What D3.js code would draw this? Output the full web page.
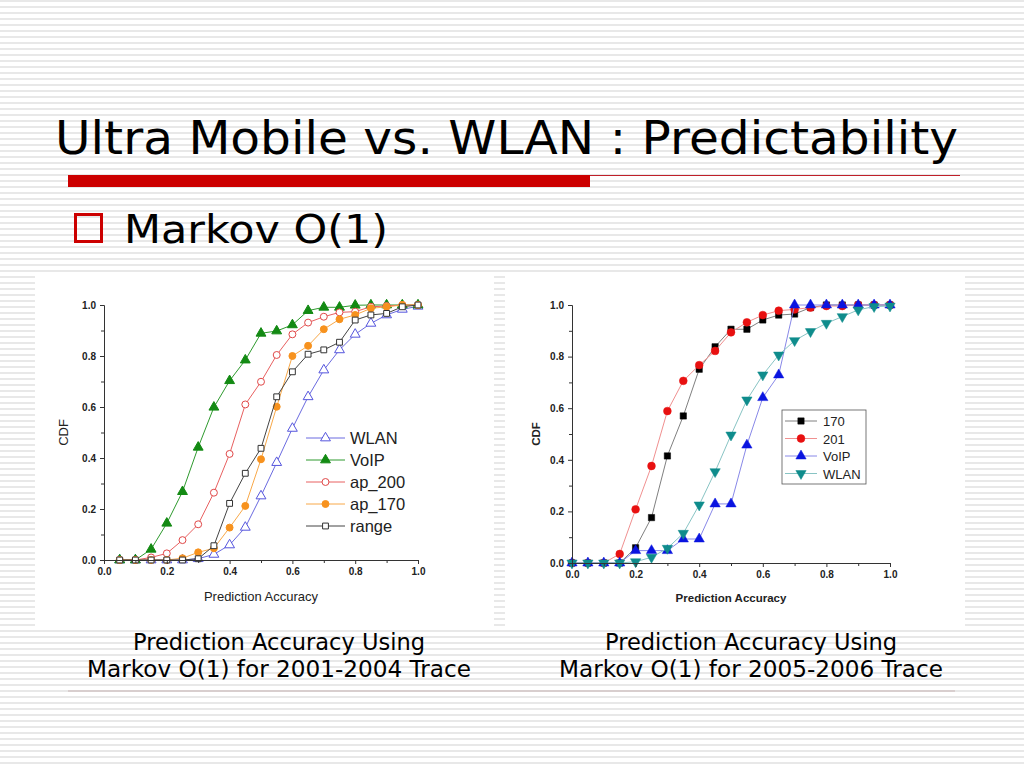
<!DOCTYPE html>
<html>
<head>
<meta charset="utf-8">
<script src="https://cdn.jsdelivr.net/npm/d3@7/dist/d3.min.js"></script>
<style>
  html, body { margin: 0; padding: 0; background: #fff; }
  svg { display: block; }
</style>
</head>
<body>
<svg id="chart" width="1024" height="768"></svg>
<script>
// ---------------- DATA ----------------
const slideTitle = "Ultra Mobile vs. WLAN : Predictability";
const bulletText = "Markov O(1)";
const captionLeft = ["Prediction Accuracy Using", "Markov O(1) for 2001-2004 Trace"];
const captionRight = ["Prediction Accuracy Using", "Markov O(1) for 2005-2006 Trace"];

const axisTicks = [0.0, 0.2, 0.4, 0.6, 0.8, 1.0];
const minorTicks = [0.1, 0.3, 0.5, 0.7, 0.9];
const xTitle = "Prediction Accuracy";
const yTitle = "CDF";

// Left chart (2001-2004 trace)
const leftX = [0.05, 0.10, 0.15, 0.20, 0.25, 0.30, 0.35, 0.40, 0.45, 0.50,
               0.55, 0.60, 0.65, 0.70, 0.75, 0.80, 0.85, 0.90, 0.95, 1.00];
const leftNames = ["WLAN", "VoIP", "ap_200", "ap_170", "range"];
const leftWLAN  = [0, 0, 0, 0, 0, 0.005, 0.022, 0.059, 0.128, 0.251, 0.382, 0.516, 0.640, 0.745, 0.824, 0.885, 0.928, 0.961, 0.983, 0.995];
const leftVoIP  = [0, 0, 0.042, 0.144, 0.268, 0.442, 0.599, 0.703, 0.784, 0.889, 0.898, 0.922, 0.978, 0.991, 0.991, 0.999, 1, 1, 1, 1];
const leftAp200 = [0, 0, 0.010, 0.026, 0.078, 0.140, 0.264, 0.416, 0.610, 0.699, 0.804, 0.885, 0.931, 0.954, 0.971, 0.974, 0.993, 0.996, 1, 1];
const leftAp170 = [0, 0, 0, 0, 0.007, 0.030, 0.046, 0.127, 0.212, 0.395, 0.601, 0.800, 0.840, 0.905, 0.944, 0.961, 0.987, 0.993, 1, 1];
const leftRange = [0, 0, 0, 0, 0, 0.005, 0.056, 0.222, 0.340, 0.438, 0.640, 0.738, 0.807, 0.824, 0.854, 0.941, 0.961, 0.967, 0.993, 1];

// Right chart (2005-2006 trace)
const rightX = [0.00, 0.05, 0.10, 0.15, 0.20, 0.25, 0.30, 0.35, 0.40, 0.45, 0.50,
                0.55, 0.60, 0.65, 0.70, 0.75, 0.80, 0.85, 0.90, 0.95, 1.00];
const rightNames = ["170", "201", "VoIP", "WLAN"];
const right170  = [0, 0, 0, 0, 0.059, 0.176, 0.415, 0.570, 0.751, 0.838, 0.906, 0.906, 0.942, 0.961, 0.965, 0.990, 1, 1, 1, 1, 1];
const right201  = [0, 0, 0, 0.035, 0.208, 0.376, 0.589, 0.706, 0.767, 0.822, 0.894, 0.933, 0.961, 0.978, 0.983, 0.990, 0.996, 0.996, 1, 1, 1];
const rightVoIP = [0, 0, 0, 0, 0.048, 0.048, 0.048, 0.093, 0.093, 0.229, 0.229, 0.457, 0.641, 0.729, 1, 1, 1, 1, 1, 1, 1];
const rightWLAN = [0, 0, 0, 0, 0.005, 0.022, 0.057, 0.115, 0.225, 0.354, 0.496, 0.632, 0.729, 0.806, 0.862, 0.897, 0.929, 0.955, 0.981, 0.994, 0.996];

// ---------------- DRAWING ----------------
const svg = d3.select("#chart");
const defs = svg.append("defs");
const pat = defs.append("pattern").attr("id", "stripes")
  .attr("patternUnits", "userSpaceOnUse").attr("width", 8).attr("height", 6);
pat.append("rect").attr("width", 8).attr("height", 6).attr("fill", "#ffffff");
pat.append("rect").attr("y", 0).attr("width", 8).attr("height", 2).attr("fill", "#e8e8e8");

svg.append("rect").attr("width", 1024).attr("height", 768).attr("fill", "url(#stripes)");

const sans = "'DejaVu Sans', Verdana, sans-serif";
const arial = "'Liberation Sans', Arial, sans-serif";

// Title
svg.append("text").attr("x", 55).attr("y", 154)
  .attr("font-family", sans).attr("font-size", 45.5).attr("fill", "#000")
  .attr("textLength", 903).attr("lengthAdjust", "spacingAndGlyphs")
  .text(slideTitle);

// Red rule
svg.append("rect").attr("x", 68).attr("y", 175).attr("width", 522).attr("height", 12).attr("fill", "#cc0000");
svg.append("line").attr("x1", 590).attr("x2", 960).attr("y1", 175.5).attr("y2", 175.5)
  .attr("stroke", "#c0202a").attr("stroke-width", 1.2);

// Bullet
svg.append("rect").attr("x", 75.5).attr("y", 214.5).attr("width", 26).attr("height", 27)
  .attr("fill", "none").attr("stroke", "#cc0000").attr("stroke-width", 3);
svg.append("text").attr("x", 124).attr("y", 243)
  .attr("font-family", sans).attr("font-size", 39).attr("fill", "#000")
  .attr("textLength", 264).attr("lengthAdjust", "spacingAndGlyphs")
  .text(bulletText);

// Panels
svg.append("rect").attr("x", 35).attr("y", 273).attr("width", 459).attr("height", 355).attr("fill", "#fff");
svg.append("rect").attr("x", 505).attr("y", 272).attr("width", 460).attr("height", 356).attr("fill", "#fff");

// Captions
function caption(lines, cx, widths) {
  lines.forEach((t, i) => {
    svg.append("text").attr("x", cx).attr("y", 650 + i * 27)
      .attr("text-anchor", "middle").attr("font-family", sans).attr("font-size", 22.5)
      .attr("textLength", widths[i]).attr("lengthAdjust", "spacingAndGlyphs")
      .attr("fill", "#000").text(t);
  });
}
caption(captionLeft, 279, [292, 384]);
caption(captionRight, 751, [292, 384]);

// Bottom rule
svg.append("line").attr("x1", 68).attr("x2", 955).attr("y1", 691).attr("y2", 691)
  .attr("stroke", "#c8b4b4").attr("stroke-width", 1.2);

// Generic chart
function drawAxes(g, x, y, opts) {
  g.append("g").attr("transform", `translate(0,${y(0)})`)
    .call(d3.axisBottom(x).tickValues(axisTicks).tickFormat(d3.format(".1f")).tickSize(4).tickPadding(4));
  g.append("g").attr("transform", `translate(0,${y(0)})`)
    .call(d3.axisBottom(x).tickValues(minorTicks).tickFormat("").tickSize(3))
    .select(".domain").remove();
  g.append("g").attr("transform", `translate(${x(0)},0)`)
    .call(d3.axisLeft(y).tickValues(axisTicks).tickFormat(d3.format(".1f")).tickSize(4).tickPadding(4));
  g.append("g").attr("transform", `translate(${x(0)},0)`)
    .call(d3.axisLeft(y).tickValues(minorTicks).tickFormat("").tickSize(3))
    .select(".domain").remove();
  g.selectAll(".domain, .tick line").attr("stroke", "#333").attr("stroke-width", 1);
  g.selectAll(".tick text").attr("font-family", arial).attr("font-weight", "bold")
    .attr("font-size", 10).attr("fill", "#222");
  g.append("text").attr("x", (x(0) + x(1)) / 2).attr("y", opts.xTitleY)
    .attr("text-anchor", "middle").attr("font-family", arial)
    .attr("font-size", opts.titleSize).attr("font-weight", opts.titleWeight).attr("fill", "#222")
    .text(xTitle);
  g.append("text").attr("transform", `translate(${opts.yTitleX},${(y(0) + y(1)) / 2}) rotate(-90)`)
    .attr("text-anchor", "middle").attr("font-family", arial)
    .attr("font-size", opts.titleSize).attr("font-weight", opts.titleWeight).attr("fill", "#222")
    .text(yTitle);
}

function drawSeries(g, x, y, xs, ys, s) {
  const pts = xs.map((v, i) => [v, ys[i]]);
  g.append("path").datum(pts)
    .attr("d", d3.line().x(d => x(d[0])).y(d => y(d[1])))
    .attr("fill", "none").attr("stroke", s.line).attr("stroke-width", s.lw || 1);
  const sym = d3.symbol().type(s.type).size(s.size);
  g.selectAll(null).data(pts).enter().append("path")
    .attr("d", sym)
    .attr("transform", d => `translate(${x(d[0])},${y(d[1])})${s.rot ? " rotate(180)" : ""}`)
    .attr("fill", s.fill).attr("stroke", s.stroke).attr("stroke-width", s.sw || 1);
}

function legendSymbol(g, x0, x1, yy, s) {
  g.append("line").attr("x1", x0).attr("x2", x1).attr("y1", yy).attr("y2", yy)
    .attr("stroke", s.line).attr("stroke-width", s.lw || 1);
  g.append("path").attr("d", d3.symbol().type(s.type).size(s.size))
    .attr("transform", `translate(${(x0 + x1) / 2},${yy})${s.rot ? " rotate(180)" : ""}`)
    .attr("fill", s.fill).attr("stroke", s.stroke).attr("stroke-width", s.sw || 1);
}

// ---- Left chart ----
const xL = d3.scaleLinear().domain([0, 1]).range([104, 418]);
const yL = d3.scaleLinear().domain([0, 1]).range([560, 305]);
const gL = svg.append("g");
const leftData = [leftWLAN, leftVoIP, leftAp200, leftAp170, leftRange];
const leftStyles = [
  { type: d3.symbolTriangle, size: 42, fill: "#fff", stroke: "#5555dd", line: "#6a6ae0" },
  { type: d3.symbolTriangle, size: 42, fill: "#138a13", stroke: "#138a13", line: "#2e9a2e" },
  { type: d3.symbolCircle, size: 38, fill: "#fff", stroke: "#e04848", line: "#e86060" },
  { type: d3.symbolCircle, size: 38, fill: "#f7921e", stroke: "#f7921e", line: "#f8a848" },
  { type: d3.symbolSquare, size: 34, fill: "#fff", stroke: "#333", line: "#444" }
];
leftData.forEach((ys, i) => drawSeries(gL, xL, yL, leftX, ys, leftStyles[i]));
drawAxes(gL, xL, yL, { xTitleY: 601, yTitleX: 68, titleSize: 13, titleWeight: "normal" });
leftNames.forEach((n, i) => {
  const yy = 438 + i * 22;
  legendSymbol(gL, 306, 345, yy, leftStyles[i]);
  gL.append("text").attr("x", 350).attr("y", yy + 6).attr("font-family", arial)
    .attr("font-size", 16.5).attr("fill", "#222").text(n);
});

// ---- Right chart ----
const xR = d3.scaleLinear().domain([0, 1]).range([572, 890]);
const yR = d3.scaleLinear().domain([0, 1]).range([563, 305]);
const gR = svg.append("g");
const rightData = [right170, right201, rightVoIP, rightWLAN];
const rightStyles = [
  { type: d3.symbolSquare, size: 40, fill: "#000", stroke: "#000", line: "#808080", sw: 0.5 },
  { type: d3.symbolCircle, size: 48, fill: "#e81010", stroke: "#e81010", line: "#f09090", sw: 0.5 },
  { type: d3.symbolTriangle, size: 46, fill: "#0a14e0", stroke: "#0a14e0", line: "#8888e8", sw: 0.5 },
  { type: d3.symbolTriangle, size: 46, fill: "#0f8c8c", stroke: "#0f8c8c", line: "#88c4c4", sw: 0.5, rot: true }
];
rightData.forEach((ys, i) => drawSeries(gR, xR, yR, rightX, ys, rightStyles[i]));
drawAxes(gR, xR, yR, { xTitleY: 602, yTitleX: 540, titleSize: 11.5, titleWeight: "bold" });
gR.append("rect").attr("x", 782).attr("y", 410).attr("width", 84).attr("height", 74)
  .attr("fill", "#fff").attr("stroke", "#555").attr("stroke-width", 0.8);
rightNames.forEach((n, i) => {
  const yy = 421 + i * 17.5;
  legendSymbol(gR, 785, 817, yy, rightStyles[i]);
  gR.append("text").attr("x", 823).attr("y", yy + 5).attr("font-family", arial)
    .attr("font-size", 13).attr("fill", "#222").text(n);
});
</script>
</body>
</html>
